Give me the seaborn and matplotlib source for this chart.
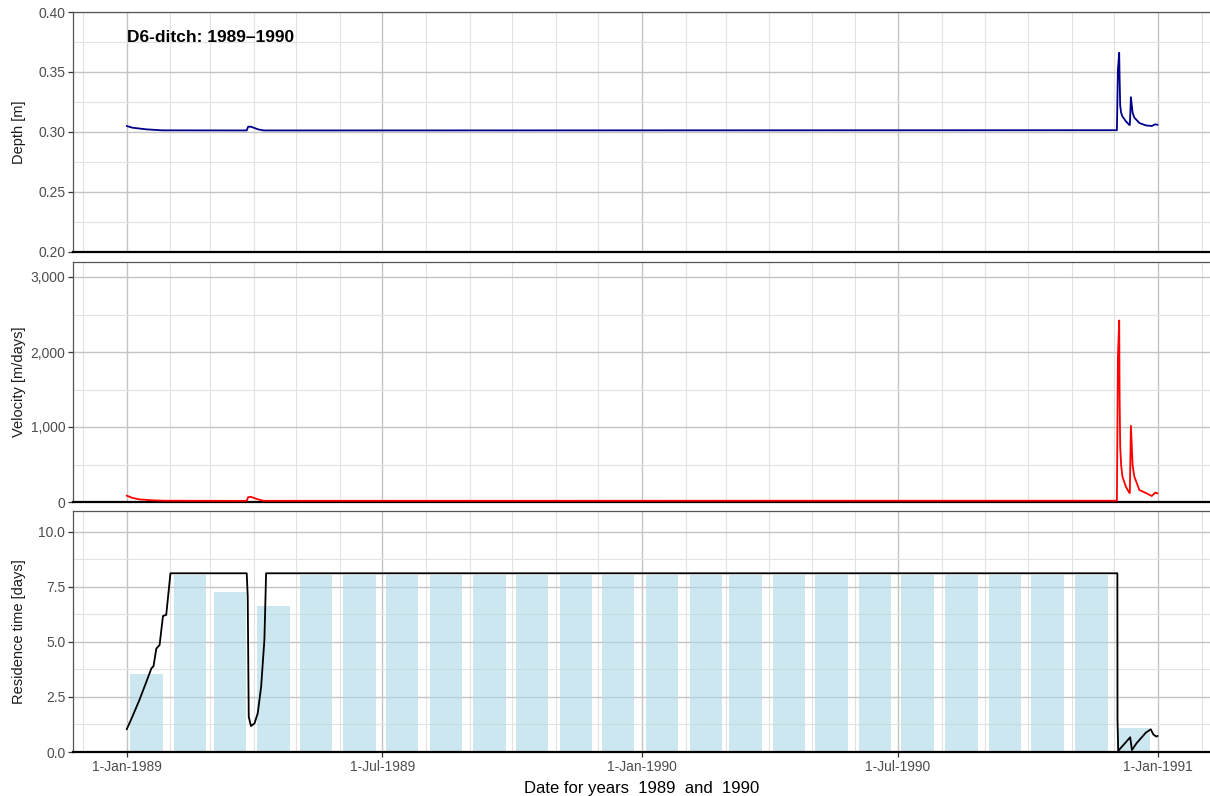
import numpy as np
import pandas as pd
import matplotlib
matplotlib.use("Agg")
import matplotlib.pyplot as plt
import matplotlib.dates as mdates
import matplotlib.ticker as mticker
import seaborn as sns

# ---------------- data ----------------
depth_dates = ["1989-01-01", "1989-01-05", "1989-01-15", "1989-01-26", "1989-03-27",
               "1989-03-28", "1989-03-30", "1989-04-04", "1989-04-08",
               "1990-12-03 02:00", "1990-12-03 19:00", "1990-12-04 17:00", "1990-12-05 00:00",
               "1990-12-05 10:00", "1990-12-06 02:00", "1990-12-07", "1990-12-09 10:00",
               "1990-12-11 19:00", "1990-12-12 06:00", "1990-12-13", "1990-12-14 05:00",
               "1990-12-15 10:00", "1990-12-19", "1990-12-23 14:00", "1990-12-27 19:00",
               "1990-12-30 05:00", "1990-12-31 23:00"]
depth_vals = [0.305, 0.3036, 0.3022, 0.3014, 0.3013,
              0.3044, 0.3044, 0.3022, 0.3013,
              0.3015, 0.352, 0.366, 0.345,
              0.322, 0.316, 0.313, 0.309,
              0.306, 0.3058, 0.329, 0.316,
              0.312, 0.3075, 0.3055, 0.305,
              0.3064, 0.306]

vel_dates = ["1989-01-01", "1989-01-05", "1989-01-10", "1989-01-20", "1989-01-28", "1989-03-27",
             "1989-03-28", "1989-03-30", "1989-04-04", "1989-04-08",
             "1990-12-03 02:00", "1990-12-03 19:00", "1990-12-04 17:00", "1990-12-05 00:00",
             "1990-12-05 10:00", "1990-12-06 02:00", "1990-12-07", "1990-12-09 10:00",
             "1990-12-11 19:00", "1990-12-12 06:00", "1990-12-13", "1990-12-14 05:00",
             "1990-12-15 10:00", "1990-12-19", "1990-12-23 14:00", "1990-12-27 19:00",
             "1990-12-30 05:00", "1990-12-31 23:00"]
vel_vals = [85, 55, 35, 22, 17, 15,
            65, 68, 35, 16,
            17, 1920, 2420, 1390,
            740, 490, 340, 205,
            125, 120, 1015, 490,
            340, 160, 120, 80,
            125, 115]

res_dates = ["1989-01-01", "1989-01-05", "1989-01-10", "1989-01-15", "1989-01-18 12:00",
             "1989-01-20", "1989-01-22", "1989-01-24 07:00", "1989-01-26 17:00", "1989-01-29",
             "1989-02-01", "1989-03-27", "1989-03-27 17:00", "1989-03-28 10:00", "1989-03-30",
             "1989-04-01 12:00", "1989-04-03 19:00", "1989-04-06 05:00", "1989-04-08 12:00",
             "1989-04-09", "1989-04-09 17:00", "1990-12-03 10:00", "1990-12-03 12:00",
             "1990-12-04", "1990-12-12 12:00", "1990-12-13 17:00", "1990-12-17",
             "1990-12-23 14:00", "1990-12-27 02:00", "1990-12-28 20:00", "1990-12-31 00:00",
             "1990-12-31 23:00"]
res_vals = [1.03, 1.6, 2.36, 3.2, 3.8,
            3.9, 4.7, 4.86, 6.18, 6.23,
            8.12, 8.12, 7.06, 1.6, 1.18,
            1.3, 1.76, 2.97, 5.09,
            6.3, 8.12, 8.12, 1.5,
            0.05, 0.67, 0.09, 0.4,
            0.88, 1.03, 0.8, 0.7,
            0.73]

bar_months = ["1989-01", "1989-02", "1989-03", "1989-04", "1989-05", "1989-06",
              "1989-07", "1989-08", "1989-09", "1989-10", "1989-11", "1989-12",
              "1990-01", "1990-02", "1990-03", "1990-04", "1990-05", "1990-06",
              "1990-07", "1990-08", "1990-09", "1990-10", "1990-11", "1990-12"]
bar_vals = [3.55, 8.05, 7.28, 6.63, 8.05, 8.05,
            8.05, 8.05, 8.05, 8.05, 8.05, 8.05,
            8.05, 8.05, 8.05, 8.05, 8.05, 8.05,
            8.05, 8.05, 8.05, 8.05, 8.05, 1.1]

x_tick_dates = ["1989-01-01", "1989-07-01", "1990-01-01", "1990-07-01", "1991-01-01"]
x_tick_labels = ["1-Jan-1989", "1-Jul-1989", "1-Jan-1990", "1-Jul-1990", "1-Jan-1991"]

title_text = "D6-ditch: 1989\u20131990"
xlabel_text = "Date for years  1989  and  1990"

# ---------------- styling ----------------
sns.set_style("white")
plt.rcParams["font.family"] = ["Liberation Sans", "DejaVu Sans"]

def to_dt(lst):
    return pd.to_datetime(lst, format="mixed")

df_depth = pd.DataFrame({"date": to_dt(depth_dates), "depth": depth_vals})
df_vel = pd.DataFrame({"date": to_dt(vel_dates), "vel": vel_vals})
df_res = pd.DataFrame({"date": to_dt(res_dates), "res": res_vals})
df_bar = pd.DataFrame({"month": pd.to_datetime(bar_months, format="%Y-%m"), "res": bar_vals})

fig = plt.figure(figsize=(12.1, 7.96), dpi=100)
W, H = 1210, 796
left, right = 73, 1210
def add_ax(top, bottom):
    return fig.add_axes([left / W, 1 - bottom / H, (right - left) / W, (bottom - top) / H])

ax1 = add_ax(12, 252)
ax2 = add_ax(262, 502)
ax3 = add_ax(511, 752)

xmin = pd.Timestamp("1988-11-24")
xmax = pd.Timestamp("1991-02-07")

# bars
ax3.bar(df_bar["month"] + pd.Timedelta(days=14), df_bar["res"], width=23,
        color="lightblue", alpha=0.6, zorder=2, linewidth=0)

sns.lineplot(data=df_depth, x="date", y="depth", ax=ax1, color="#00008B", lw=1.3,
             estimator=None, zorder=3)
sns.lineplot(data=df_vel, x="date", y="vel", ax=ax2, color="red", lw=1.3,
             estimator=None, zorder=3)
sns.lineplot(data=df_res, x="date", y="res", ax=ax3, color="black", lw=1.3,
             estimator=None, zorder=3)

ylims = [(0.20, 0.40), (0, 3200), (0, 10.95)]
ymaj = [0.05, 1000, 2.5]
ymin_ = [0.025, 500, 1.25]
ylabels = ["Depth [m]", "Velocity [m/days]", "Residence time [days]"]
yfmt = [mticker.FormatStrFormatter("%.2f"),
        mticker.FuncFormatter(lambda v, p: f"{int(v):,}"),
        mticker.FormatStrFormatter("%.1f")]

for i, ax in enumerate([ax1, ax2, ax3]):
    ax.set_xlim(xmin, xmax)
    ax.set_ylim(*ylims[i])
    ax.yaxis.set_major_locator(mticker.MultipleLocator(ymaj[i]))
    ax.yaxis.set_minor_locator(mticker.MultipleLocator(ymin_[i]))
    ax.yaxis.set_major_formatter(yfmt[i])
    ax.xaxis.set_major_locator(mticker.FixedLocator(mdates.date2num(pd.to_datetime(x_tick_dates))))
    ax.xaxis.set_minor_locator(mdates.MonthLocator())
    ax.grid(which="major", color="#C4C4C4", lw=1.0, zorder=0)
    ax.grid(which="minor", color="#E2E2E2", lw=0.8, zorder=0)
    ax.set_axisbelow(True)
    for s in ["top", "left"]:
        ax.spines[s].set_color("#555555")
        ax.spines[s].set_linewidth(0.9)
    ax.spines["right"].set_visible(False)
    ax.spines["bottom"].set_color("black")
    ax.spines["bottom"].set_linewidth(1.6)
    ax.tick_params(axis="y", which="major", left=True, length=3.5, width=0.9,
                   color="#333333", labelsize=10, labelcolor="#4D4D4D", pad=2)
    ax.tick_params(axis="y", which="minor", left=False)
    ax.tick_params(axis="x", which="minor", bottom=False)
    ax.set_ylabel(ylabels[i], fontsize=10.5, color="#1A1A1A")
    ax.yaxis.set_label_coords(-0.041, 0.5)
    ax.set_xlabel("")
    if i < 2:
        ax.tick_params(axis="x", which="major", bottom=False, labelbottom=False)
    else:
        ax.set_xticklabels(x_tick_labels)
        ax.tick_params(axis="x", which="major", bottom=True, length=3.5, width=0.9,
                       color="#333333", labelsize=10, labelcolor="#4D4D4D", pad=2)

ax1.text(pd.Timestamp("1989-01-01"), 0.379, title_text, fontsize=12.5, fontweight="bold",
         ha="left", va="center", color="black")
ax3.set_xlabel(xlabel_text, fontsize=12, color="black", labelpad=5)

fig.savefig("out.png", dpi=100)
